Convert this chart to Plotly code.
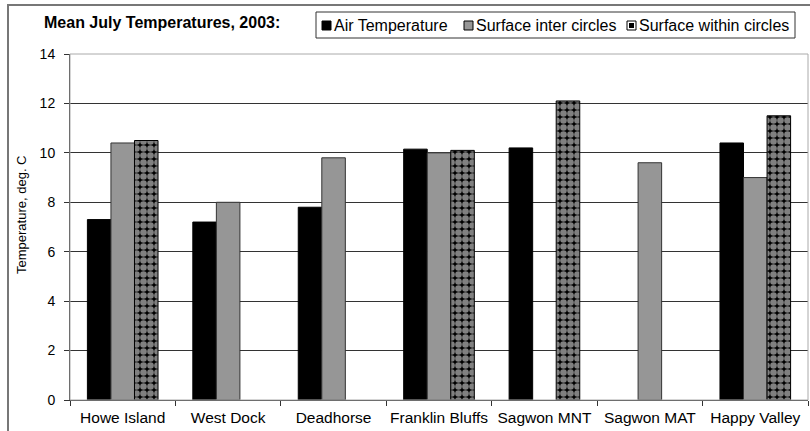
import plotly.graph_objects as go

sites = ["Howe Island", "West Dock", "Deadhorse", "Franklin Bluffs",
         "Sagwon MNT", "Sagwon MAT", "Happy Valley"]
air_temp = [7.3, 7.2, 7.8, 10.15, 10.2, None, 10.4]
surface_inter = [10.4, 8.0, 9.8, 10.0, None, 9.6, 9.0]
surface_within = [10.5, None, None, 10.1, 12.1, None, 11.5]
series_names = ["Air Temperature", "Surface inter circles", "Surface within circles"]
y_ticks = [0, 2, 4, 6, 8, 10, 12, 14]

font = "Liberation Sans, Arial, sans-serif"
W, H = 810, 431
L, R, T, B = 70, 2, 54, 31
pw, ph = W - L - R, H - T - B


# pixel position -> paper coords
def px(x):
    return (x - L) / pw


def py(y):
    return (H - B - y) / ph


within_pattern = dict(shape=".", fgcolor="white", bgcolor="black", size=7, solidity=0.7)

fig = go.Figure()
fig.add_trace(go.Bar(x=sites, y=air_temp, name=series_names[0],
                     marker=dict(color="black", line=dict(color="black", width=1))))
fig.add_trace(go.Bar(x=sites, y=surface_inter, name=series_names[1],
                     marker=dict(color="#969696", line=dict(color="#333333", width=1))))
fig.add_trace(go.Bar(x=sites, y=surface_within, name=series_names[2],
                     marker=dict(color="white", line=dict(color="black", width=1),
                                 pattern=within_pattern)))

# hand-made legend, Excel style
shapes = [
    # plot area border
    dict(type="rect", xref="paper", yref="paper", x0=0, x1=1, y0=0, y1=1,
         line=dict(color="#aaaaaa", width=1)),
    # chart frame
    dict(type="rect", xref="paper", yref="paper", x0=px(8), x1=px(814), y0=py(436), y1=py(5),
         line=dict(color="#777777", width=2)),
    # legend box
    dict(type="rect", xref="paper", yref="paper", x0=px(316), x1=px(795), y0=py(38), y1=py(12),
         line=dict(color="#333333", width=1), fillcolor="white"),
]
annotations = [
    dict(text="<b>Mean July Temperatures, 2003:</b>", xref="paper", yref="paper",
         x=px(42), y=py(23), xanchor="left", yanchor="middle", showarrow=False,
         font=dict(size=16)),
    dict(text="Temperature, deg. C", xref="paper", yref="paper", textangle=-90,
         x=px(21), y=py(215), xanchor="center", yanchor="middle", showarrow=False,
         font=dict(size=13)),
]
swatch_x = [322, 464, 627]
swatch_fill = ["black", "#969696", "white"]
for sx, fill, name in zip(swatch_x, swatch_fill, series_names):
    shapes.append(dict(type="rect", xref="paper", yref="paper", x0=px(sx), x1=px(sx + 9),
                       y0=py(30), y1=py(21), fillcolor=fill, line=dict(color="black", width=1)))
    annotations.append(dict(text=name, xref="paper", yref="paper", x=px(sx + 10), y=py(25),
                            xanchor="left", yanchor="middle", showarrow=False,
                            font=dict(size=16)))
# dotted mark inside the third swatch
shapes.append(dict(type="rect", xref="paper", yref="paper", x0=px(629), x1=px(634),
                   y0=py(28), y1=py(23), fillcolor="black", line=dict(width=0)))

fig.update_layout(
    width=W, height=H,
    margin=dict(l=L, r=R, t=T, b=B),
    paper_bgcolor="white", plot_bgcolor="white",
    font=dict(family=font, size=13, color="black"),
    barmode="group", bargap=0.33, bargroupgap=0,
    showlegend=False,
    xaxis=dict(showline=True, linecolor="#333333", ticks="outside", ticklen=5,
               tickcolor="#333333", showgrid=False, tickson="boundaries",
               tickfont=dict(size=15.5), tickangle=0, automargin=False,
               ticklabelstandoff=3),
    yaxis=dict(range=[0, 14], tickvals=y_ticks, showline=True, linecolor="#333333",
               ticks="outside", ticklen=5, tickcolor="#333333",
               showgrid=True, gridcolor="#333333", gridwidth=1,
               tickfont=dict(size=14), automargin=False, ticklabelstandoff=6),
    annotations=annotations,
    shapes=shapes,
)

# the page body has a default 8px margin; drop it so the chart fills the window
fig.write_html("out.html", config={"displayModeBar": False},
               post_script="document.body.style.margin='0';")
